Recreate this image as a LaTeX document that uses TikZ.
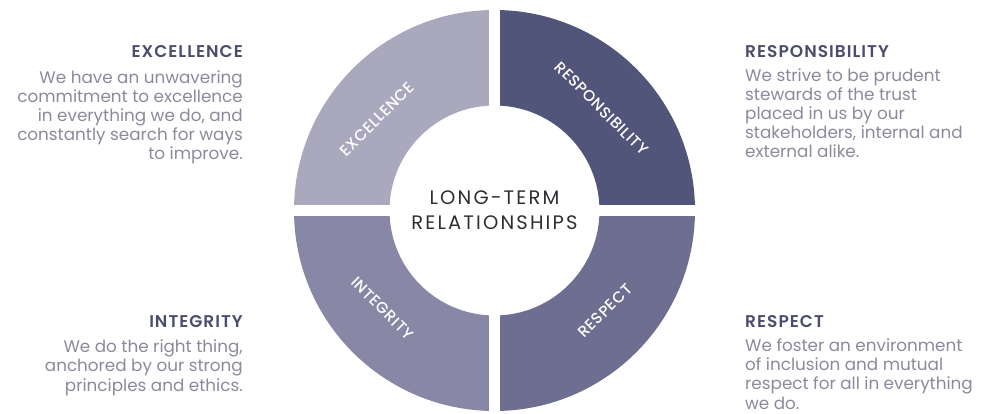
\documentclass[tikz,border=0pt]{standalone}
\usepackage{fontspec}
\setmainfont{Poppins}
\newfontfamily\pmed{Poppins Medium}
\newfontfamily\psemi{Poppins SemiBold}
\usetikzlibrary{calc}
\definecolor{cexc}{HTML}{A9A8BD}
\definecolor{cres}{HTML}{52557A}
\definecolor{cint}{HTML}{8887A5}
\definecolor{cresp}{HTML}{6E6E90}
\definecolor{head}{HTML}{4B4D6D}
\definecolor{body}{HTML}{8A8A9C}
\definecolor{ctr}{HTML}{2E2E33}
\tikzset{
  ringlabel/.style={text=white,font=\pmed\fontsize{15.5}{17}\selectfont\addfontfeature{LetterSpace=4},inner sep=0pt},
  heading/.style={text=head,font=\psemi\fontsize{17}{19}\selectfont\addfontfeature{LetterSpace=6},inner sep=0pt},
  bodytext/.style={text=body,font=\fontsize{16.8}{19.2}\selectfont,inner sep=0pt},
  centertext/.style={text=ctr,font=\fontsize{19.5}{25}\selectfont\addfontfeature{LetterSpace=11},inner sep=0pt,align=center}
}
\begin{document}
\begin{tikzpicture}[x=1pt,y=1pt]
\useasboundingbox (0,0) rectangle (986,413);
\coordinate (C) at (494.5,202.5);
\def\Ro{200.5}
\def\Ri{105}
% quadrants
\fill[cres] ($(C)+(0:\Ro)$) arc[start angle=0,end angle=90,radius=\Ro] -- ($(C)+(90:\Ri)$) arc[start angle=90,end angle=0,radius=\Ri] -- cycle;
\fill[cexc] ($(C)+(90:\Ro)$) arc[start angle=90,end angle=180,radius=\Ro] -- ($(C)+(180:\Ri)$) arc[start angle=180,end angle=90,radius=\Ri] -- cycle;
\fill[cint] ($(C)+(180:\Ro)$) arc[start angle=180,end angle=270,radius=\Ro] -- ($(C)+(270:\Ri)$) arc[start angle=270,end angle=180,radius=\Ri] -- cycle;
\fill[cresp] ($(C)+(270:\Ro)$) arc[start angle=270,end angle=360,radius=\Ro] -- ($(C)+(0:\Ri)$) arc[start angle=0,end angle=-90,radius=\Ri] -- cycle;
% gaps
\fill[white] ($(C)+(-5.5,-205)$) rectangle ($(C)+(5.5,205)$);
\fill[white] ($(C)+(-205,-5.5)$) rectangle ($(C)+(205,5.5)$);
% ring labels
\node[ringlabel,rotate=45] (lexc) at (377,294) {EXCELLENCE};
\node[ringlabel,rotate=-45] (lres) at (601.7,304.7) {RESPONSIBILITY};
\node[ringlabel,rotate=-45] (lint) at (382.5,104.7) {INTEGRITY};
\node[ringlabel,rotate=45] (lresp) at (605,102.3) {RESPECT};
% center
\node[centertext,anchor=base] (ctr) at (494.5,183) {LONG-TERM\\RELATIONSHIPS};
% text blocks
\node[heading,anchor=base east] (hexc) at (243,355) {EXCELLENCE};
\node[bodytext,anchor=base east,align=right] (bexc) at (243,253) {We have an unwavering\\commitment to excellence\\in everything we do, and\\constantly search for ways\\to improve.};
\node[heading,anchor=base west] (hres) at (745,355) {RESPONSIBILITY};
\node[bodytext,anchor=base west,align=left] (bres) at (745,255) {We strive to be prudent\\stewards of the trust\\placed in us by our\\stakeholders, internal and\\external alike.};
\node[heading,anchor=base east] (hint) at (243,86) {INTEGRITY};
\node[bodytext,anchor=base east,align=right] (bint) at (243,22) {We do the right thing,\\anchored by our strong\\principles and ethics.};
\node[heading,anchor=base west] (hresp) at (745,86) {RESPECT};
\node[bodytext,anchor=base west,align=left] (bresp) at (745,4) {We foster an environment\\of inclusion and mutual\\respect for all in everything\\we do.};
\end{tikzpicture}
\end{document}
